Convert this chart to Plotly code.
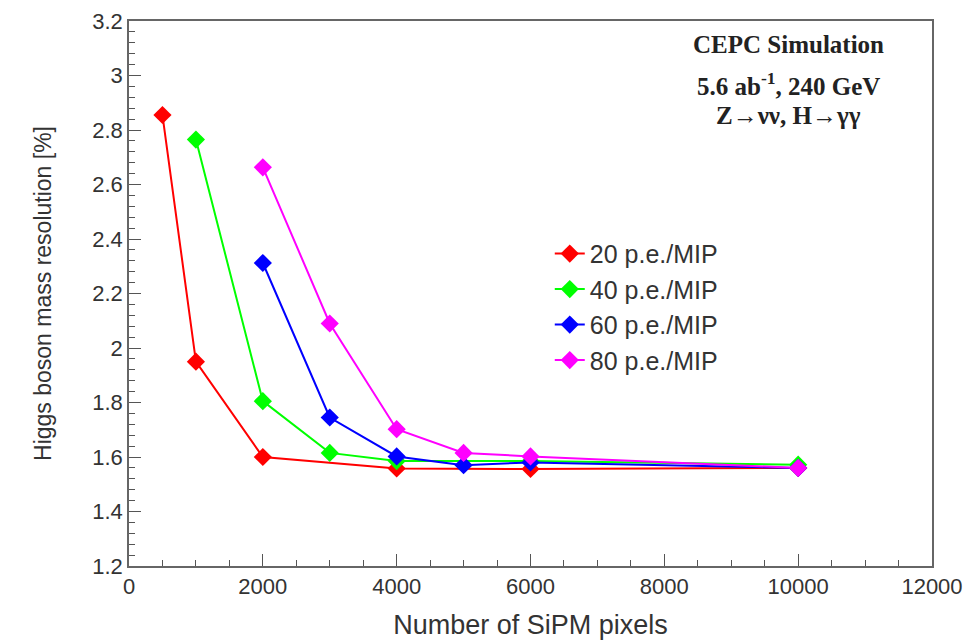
import plotly.graph_objects as go

# Data
series_names = ["20 p.e./MIP", "40 p.e./MIP", "60 p.e./MIP", "80 p.e./MIP"]
colors = ["#ff0000", "#00ff00", "#0000ff", "#ff00ff"]

x_20 = [500, 1000, 2000, 4000, 6000, 10000]
y_20 = [2.855, 1.950, 1.600, 1.558, 1.556, 1.560]

x_40 = [1000, 2000, 3000, 4000, 6000, 10000]
y_40 = [2.765, 1.805, 1.615, 1.585, 1.585, 1.572]

x_60 = [2000, 3000, 4000, 5000, 6000, 10000]
y_60 = [2.312, 1.745, 1.602, 1.570, 1.580, 1.560]

x_80 = [2000, 3000, 4000, 5000, 6000, 10000]
y_80 = [2.663, 2.090, 1.702, 1.615, 1.602, 1.560]

xs = [x_20, x_40, x_60, x_80]
ys = [y_20, y_40, y_60, y_80]

info_lines = ["<b>CEPC Simulation</b>",
              "<b>5.6 ab<sup>-1</sup>, 240 GeV</b>",
              "<b>Z→νν, H→γγ</b>"]
info_y = [3.112, 2.968, 2.855]

fig = go.Figure()
for name, c, x, y in zip(series_names, colors, xs, ys):
    fig.add_trace(go.Scatter(
        x=x, y=y, name=name, mode="lines+markers",
        line=dict(color=c, width=2),
        marker=dict(symbol="diamond", size=14, color=c),
    ))

sans = "Liberation Sans, Arial, Helvetica, sans-serif"
tick_font = dict(family=sans, size=22, color="#333333")

fig.update_layout(
    width=969, height=640,
    margin=dict(l=129, r=37, t=21, b=74),
    paper_bgcolor="white", plot_bgcolor="white",
    showlegend=True,
    legend=dict(
        x=0.524, y=0.615, xanchor="left", yanchor="top",
        bgcolor="rgba(0,0,0,0)", borderwidth=0,
        font=dict(family=sans, size=25, color="#333333"),
        tracegroupgap=0,
    ),
    xaxis=dict(
        range=[0, 12000], tickmode="linear", tick0=0, dtick=2000,
        tickformat="d", automargin=False,
        ticks="inside", ticklen=12, tickwidth=1, tickcolor="#555555",
        minor=dict(ticks="inside", ticklen=6, dtick=500, tickcolor="#555555", showgrid=False),
        showline=True, linecolor="#666666", linewidth=1.5, mirror=True,
        showgrid=False, zeroline=False,
        tickfont=tick_font,
        title=dict(text="Number of SiPM pixels", font=dict(family=sans, size=27, color="#333333"), standoff=20),
    ),
    yaxis=dict(
        range=[1.2, 3.2], tickmode="linear", tick0=1.2, dtick=0.2,
        automargin=False,
        ticks="inside", ticklen=12, tickwidth=1, tickcolor="#555555",
        minor=dict(ticks="inside", ticklen=6, dtick=0.04, tickcolor="#555555", showgrid=False),
        showline=True, linecolor="#666666", linewidth=1.5, mirror=True,
        showgrid=False, zeroline=False,
        tickfont=tick_font,
        title=dict(text="Higgs boson mass resolution [%]", font=dict(family=sans, size=23, color="#333333"), standoff=34),
    ),
)

serif = dict(family="Liberation Serif, Times New Roman, serif", size=25, color="#222222")
for txt, yy in zip(info_lines, info_y):
    fig.add_annotation(x=0.821, y=yy, xref="paper", yref="y", text=txt,
                       showarrow=False, font=serif, xanchor="center", yanchor="middle")

fig.write_html("out.html")
